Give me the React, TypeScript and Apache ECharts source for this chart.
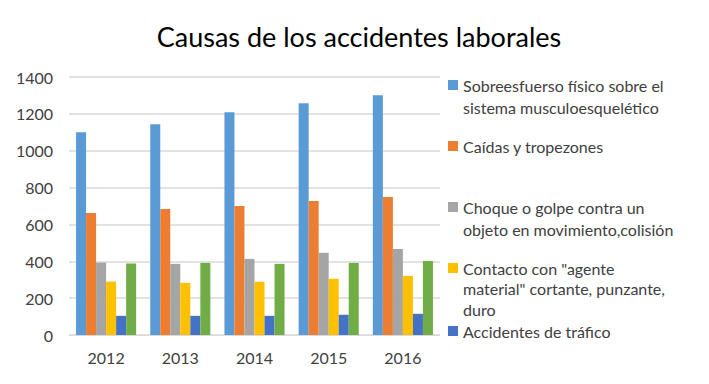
import React, { useEffect, useRef } from "react";
import * as echarts from "echarts";

const years = ["2012", "2013", "2014", "2015", "2016"];
const sobreesfuerzo = [1100, 1144, 1209, 1258, 1301];
const caidas = [662, 684, 700, 727, 749];
const choque = [393, 386, 413, 446, 467];
const contacto = [290, 283, 289, 305, 321];
const trafico = [104, 104, 104, 110, 115];
const otros = [388, 391, 386, 391, 402];

const seriesNames = [
  "Sobreesfuerso físico sobre el sistema musculoesquelético",
  "Caídas y tropezones",
  "Choque o golpe contra un objeto en movimiento,colisión",
  'Contacto con "agente material" cortante, punzante, duro',
  "Accidentes de tráfico",
  "Otros",
];
const legendLabels = [
  "Sobreesfuerso físico sobre el\nsistema musculoesquelético",
  "Caídas y tropezones",
  "Choque o golpe contra un\nobjeto en movimiento,colisión",
  'Contacto con "agente\nmaterial" cortante, punzante,\nduro',
  "Accidentes de tráfico",
];
const colors = ["#5B9BD5", "#ED7D31", "#A5A5A5", "#FFC000", "#4472C4", "#70AD47"];
const legendCenters = [85, 146, 207, 268, 331];
const legendLineHeights = [22, 22, 22, 20.5, 22];

export default function App() {
  const ref = useRef<HTMLDivElement>(null);
  useEffect(() => {
    if (!ref.current) return;
    const chart = echarts.init(ref.current, null, { renderer: "svg" });
    const values = [sobreesfuerzo, caidas, choque, contacto, trafico, otros];
    const font = "Lato, 'Noto Sans', sans-serif";
    const legends = legendLabels.map((lab, i) => {
      const lh = legendLineHeights[i];
      const lines = lab.split("\n").length;
      const prefix = " \n".repeat(lines - 1);
      return {
        show: true,
        orient: "vertical",
        left: 448,
        top: legendCenters[i] - (2 * lines - 1) * (lh / 2),
        padding: 0,
        itemWidth: 10,
        itemHeight: 10,
        itemGap: 0,
        icon: "rect",
        data: [seriesNames[i]],
        formatter: () => prefix + lab,
        textStyle: {
          fontFamily: font,
          fontSize: 16,
          color: "#404040",
          lineHeight: lh,
        },
      };
    });
    chart.setOption({
      animation: false,
      backgroundColor: "#ffffff",
      color: colors,
      title: {
        text: "Causas de los accidentes laborales",
        left: 354,
        textAlign: "center",
        top: 18,
        textStyle: { fontFamily: font, fontSize: 27, fontWeight: "normal", color: "#000000" },
      },
      legend: legends,
      grid: { left: 69, right: 269, top: 77, bottom: 49, containLabel: false },
      xAxis: {
        type: "category",
        data: years,
        axisTick: { show: false },
        axisLine: { lineStyle: { color: "#d9d9d9", width: 1 } },
        axisLabel: { fontFamily: font, fontSize: 16, color: "#404040", margin: 14 },
      },
      yAxis: {
        type: "value",
        min: 0,
        max: 1400,
        interval: 200,
        axisLine: { show: false },
        axisTick: { show: false },
        splitLine: { lineStyle: { color: "#d9d9d9", width: 1.5 } },
        axisLabel: {
          fontFamily: font,
          fontSize: 16,
          color: "#404040",
          margin: 16,
          formatter: (v: number) => String(v),
        },
      },
      series: values.map((v, i) => ({
        name: seriesNames[i],
        type: "bar",
        data: v,
        barGap: "0%",
        barCategoryGap: "19%",
        itemStyle: { color: colors[i] },
      })),
    });
    return () => chart.dispose();
  }, []);
  return <div ref={ref} style={{ width: 709, height: 384, margin: -8 }} />;
}
